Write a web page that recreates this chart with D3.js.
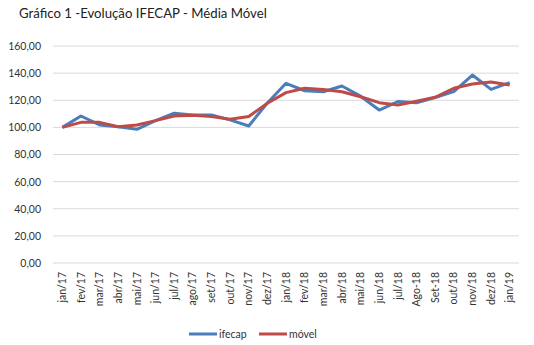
<!DOCTYPE html>
<html>
<head>
<meta charset="utf-8">
<script src="https://cdn.jsdelivr.net/npm/d3@7"></script>
<style>
  html, body { margin: 0; padding: 0; background: #fff; }
  svg { display: block; font-family: "Lato", "Open Sans", sans-serif; }
</style>
</head>
<body>
<svg id="chart" width="534" height="345"></svg>
<script>
// Monthly categories on the x axis
const months = ["jan/17","fev/17","mar/17","abr/17","mai/17","jun/17","jul/17","ago/17","set/17","out/17","nov/17","dez/17",
                "jan/18","fev/18","mar/18","abr/18","mai/18","jun/18","jul/18","Ago-18","Set-18","out/18","nov/18","dez/18","jan/19"];

// IFECAP index
const ifecap = [100.0,108.4,101.8,100.5,98.6,105.0,110.4,109.1,109.1,105.5,101.0,118.0,
                132.5,127.0,126.3,130.5,123.0,112.8,119.0,118.2,122.0,126.4,138.6,128.0,133.0];

// Moving average
const movel = [100.0,103.7,103.7,100.5,101.8,105.0,108.4,109.0,108.0,106.0,108.0,117.8,
               125.6,128.8,128.0,126.3,122.6,118.2,116.5,119.2,122.2,128.8,132.0,133.5,131.3];

const yTicks = [0,20,40,60,80,100,120,140,160];

(function draw() {
  const svg = d3.select("#chart");
  const plotLeft = 53, plotRight = 519, plotTop = 46, plotBottom = 263;

  const x = d3.scaleBand().domain(months).range([plotLeft, plotRight]);
  const y = d3.scaleLinear().domain([0, 160]).range([plotBottom, plotTop]);
  const fmt = v => d3.format(".2f")(v).replace(".", ",");

  // Title
  svg.append("text")
    .attr("x", 19).attr("y", 18)
    .attr("font-size", 13.2).attr("fill", "#222")
    .text("Gráfico 1 -Evolução IFECAP - Média Móvel");

  // Horizontal gridlines
  svg.append("g").selectAll("line").data(yTicks).join("line")
    .attr("x1", plotLeft).attr("x2", plotRight)
    .attr("y1", d => y(d)).attr("y2", d => y(d))
    .attr("stroke", "#d9d9d9").attr("stroke-width", 1);

  // Y axis labels
  const yAxis = d3.axisLeft(y).tickValues(yTicks).tickFormat(fmt).tickSize(0).tickPadding(12);
  const gy = svg.append("g").attr("transform", `translate(${plotLeft},0)`).call(yAxis);
  gy.select(".domain").remove();
  gy.selectAll("text").attr("font-size", 10.5).attr("fill", "#333").attr("font-family", "Lato, sans-serif");

  // X axis labels, rotated
  const xAxis = d3.axisBottom(x).tickSize(0).tickPadding(0);
  const gx = svg.append("g").attr("transform", `translate(0,${plotBottom})`).call(xAxis);
  gx.select(".domain").remove();
  gx.selectAll("text")
    .attr("font-size", 10.5).attr("fill", "#333").attr("font-family", "Lato, sans-serif")
    .attr("text-anchor", "end")
    .attr("dy", "0.35em")
    .attr("transform", "translate(0,9) rotate(-90)")
    .attr("x", 0).attr("y", 0);

  // Series lines
  const line = d3.line()
    .x((d, i) => x(months[i]) + x.bandwidth() / 2)
    .y(d => y(d));

  svg.append("path").datum(ifecap)
    .attr("d", line).attr("fill", "none")
    .attr("stroke", "#4a7ebb").attr("stroke-width", 3).attr("stroke-linejoin", "round");

  svg.append("path").datum(movel)
    .attr("d", line).attr("fill", "none")
    .attr("stroke", "#be4b48").attr("stroke-width", 3).attr("stroke-linejoin", "round");

  // Legend
  const legend = [
    { name: "ifecap", color: "#4a7ebb", x: 189 },
    { name: "móvel", color: "#be4b48", x: 259 }
  ];
  const lg = svg.append("g");
  legend.forEach(l => {
    lg.append("line")
      .attr("x1", l.x).attr("x2", l.x + 28)
      .attr("y1", 334).attr("y2", 334)
      .attr("stroke", l.color).attr("stroke-width", 3);
    lg.append("text")
      .attr("x", l.x + 30).attr("y", 338)
      .attr("font-size", 10.5).attr("fill", "#333")
      .text(l.name);
  });
})();
</script>
</body>
</html>
